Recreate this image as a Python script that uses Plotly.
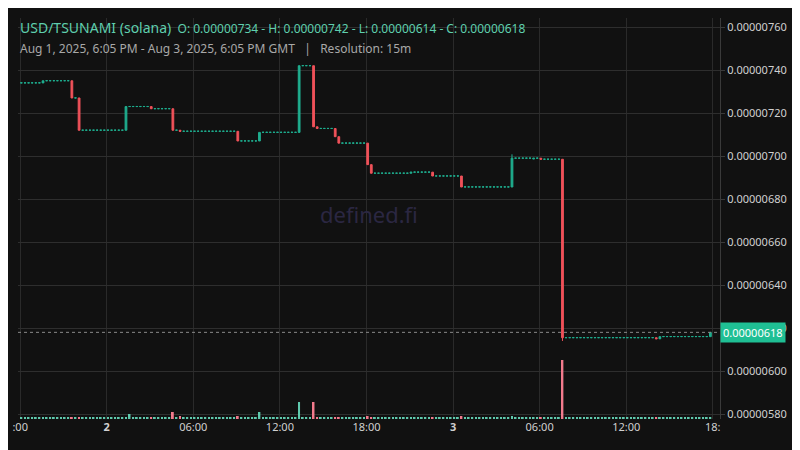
import pandas as pd
import plotly.graph_objects as go

# price in units of 1e-8
start_price = 734
n_candles = 192
# candles where price moved: index, open, close
move_idx = [6, 14, 16, 29, 36, 42, 44, 60, 66, 77, 81, 82, 87, 88, 96, 97,
            108, 114, 122, 136, 142, 144, 150, 176, 177, 191]
move_open = [734, 735, 727, 712, 723, 722, 712, 711.5, 707, 711, 742, 713.6, 712.8, 709, 706, 696,
             692, 692.5, 690.7, 685.6, 698.6, 699, 698.5, 615.5, 615, 616]
move_close = [735, 727, 712, 723, 722, 712, 711.5, 707, 711, 742, 713.6, 712.8, 709, 706, 696, 692,
              692.5, 690.7, 685.6, 699, 699, 698.5, 615.5, 615, 616, 618]
move_high = {136: 700.8, 77: 742}
move_low = {150: 614}

vol_base = 1.5
vol_idx = [30, 36, 42, 44, 60, 66, 77, 81, 96, 122, 136, 150, 176]
vol_val = [5, 2, 7, 3, 3, 7, 17, 17, 3, 3, 3, 59, 2]

times = pd.date_range("2025-08-01 18:05", periods=n_candles, freq="15min")
opens, closes, highs, lows = [], [], [], []
price = start_price
moves = dict(zip(move_idx, zip(move_open, move_close)))
for i in range(n_candles):
    if i in moves:
        o, c = moves[i]
    else:
        # flat candle: draw as (barely) rising so it gets the teal colour
        o, c = price, price + 0.05
    price = moves[i][1] if i in moves else price
    opens.append(o * 1e-8)
    closes.append(c * 1e-8)
    highs.append(move_high.get(i, max(o, c)) * 1e-8)
    lows.append(move_low.get(i, min(o, c)) * 1e-8)

vols = [vol_base] * n_candles
for i, v in zip(vol_idx, vol_val):
    vols[i] = v
vol_colors = ["#5fc9ad" if c >= o else "#f27a8c" for o, c in zip(opens, closes)]

UP = "#1fae8f"
DOWN = "#f0525a"

fig = go.Figure()
fig.add_trace(go.Bar(
    x=times, y=vols, marker_color=vol_colors, marker_line_width=0,
    yaxis="y2", showlegend=False, hoverinfo="skip",
))
fig.add_trace(go.Candlestick(
    x=times, open=opens, high=highs, low=lows, close=closes,
    increasing=dict(line=dict(color=UP, width=1), fillcolor=UP),
    decreasing=dict(line=dict(color=DOWN, width=1), fillcolor=DOWN),
    showlegend=False,
))

last = move_close[-1] * 1e-8
fig.add_hline(y=last, line_width=1, line_dash="dot", line_color="#8a8a8a")

tick_times = pd.date_range("2025-08-01 18:00", periods=9, freq="6h")
tick_text = [":00", "<b>2</b>", "06:00", "12:00", "18:00", "<b>3</b>", "06:00", "12:00", "18:"]
y_ticks = [v * 1e-8 for v in range(580, 761, 20)]

fig.update_layout(
    width=800, height=450,
    margin=dict(l=10, r=88, t=10, b=39),
    paper_bgcolor="#111111", plot_bgcolor="#111111",
    font=dict(family="Noto Sans", color="#d0d0d0", size=11),
    bargap=0.5,
    xaxis=dict(
        range=[pd.Timestamp("2025-08-01 17:51"), pd.Timestamp("2025-08-03 18:30")],
        rangeslider=dict(visible=False), automargin=False,
        tickvals=tick_times, ticktext=tick_text,
        gridcolor="#2a2a2a", showline=False, zeroline=False,
        tickfont=dict(size=11, color="#d0d0d0"),
    ),
    yaxis=dict(
        side="right", range=[577.7e-8, 764.2e-8], automargin=False,
        tickvals=y_ticks, ticktext=[f"{v:.8f}" for v in y_ticks],
        gridcolor="#2e2e2e", showline=True, linecolor="#3a3a3a", mirror=False,
        ticks="outside", ticklen=4, tickcolor="#3a3a3a",
        tickfont=dict(size=11, color="#d0d0d0"), zeroline=False,
    ),
    yaxis2=dict(overlaying="y", range=[0, 401], visible=False, fixedrange=True),
    annotations=[
        dict(xref="paper", yref="paper", x=0.0, y=1.0, xanchor="left", yanchor="middle",
             yshift=-9, showarrow=False, align="left",
             text="<span style='font-size:14px'>USD/TSUNAMI (solana)</span>  "
                  "O: 0.00000734 - H: 0.00000742 - L: 0.00000614 - C: 0.00000618",
             font=dict(size=12, color="#5fcfae")),
        dict(xref="paper", yref="paper", x=0.0, y=1.0, xanchor="left", yanchor="middle",
             yshift=-30, showarrow=False,
             text="Aug 1, 2025, 6:05 PM - Aug 3, 2025, 6:05 PM GMT   |   Resolution: 15m",
             font=dict(size=12, color="#a8a8a8")),
        dict(xref="paper", yref="paper", x=0.5, y=0.51, showarrow=False,
             text="defined.fi", font=dict(size=22, color="#2b2742")),
        dict(xref="paper", yref="y", x=1.0, y=last, xanchor="left", showarrow=False,
             text="0.00000618", bgcolor="#1fbf94", font=dict(size=11, color="#ffffff"),
             borderpad=2),
    ],
)

fig.write_html("out.html")
